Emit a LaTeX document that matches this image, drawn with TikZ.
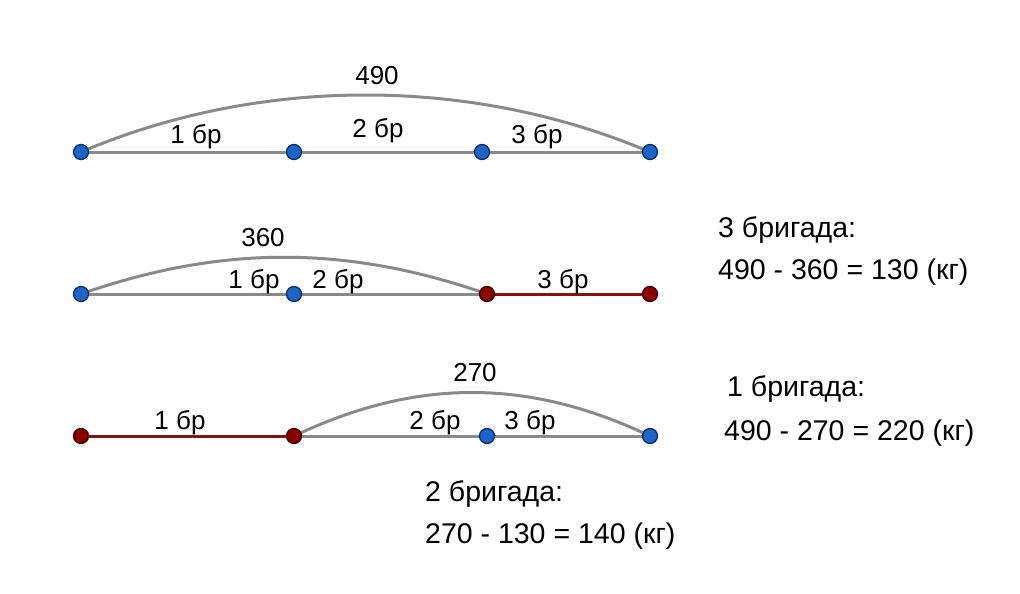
\documentclass[tikz,border=0pt]{standalone}
\usepackage{fontspec}
\setmainfont{Liberation Sans}
\definecolor{seggray}{HTML}{8A8A8A}
\definecolor{dotblue}{HTML}{1E64C8}
\definecolor{dotblueedge}{HTML}{0E2F66}
\definecolor{dotred}{HTML}{8C0000}
\definecolor{dotrededge}{HTML}{3A0000}
\definecolor{segred}{HTML}{801515}
\begin{document}
\begin{tikzpicture}[x=1pt,y=-1pt,
  bdot/.style={circle,fill=dotblue,draw=dotblueedge,line width=1.3pt,minimum size=15pt,inner sep=0pt},
  rdot/.style={circle,fill=dotred,draw=dotrededge,line width=1.3pt,minimum size=15pt,inner sep=0pt},
  gseg/.style={draw=seggray,line width=3pt},
  rseg/.style={draw=segred,line width=3pt},
  lbl/.style={font=\fontsize{26}{30}\selectfont,inner sep=0pt},
  txt/.style={font=\fontsize{28.5}{32}\selectfont,inner sep=0pt,anchor=west}]
\useasboundingbox (0,0) rectangle (1020,594);
% Row 1
\coordinate (a1) at (81,152);
\coordinate (b1) at (294,152);
\coordinate (c1) at (482,152);
\coordinate (d1) at (650,152);
\path[gseg] (a1) -- (b1) -- (c1) -- (d1);
\path[gseg] (a1) .. controls (260,76) and (471,76) .. (d1);
\node[bdot] (na1) at (a1) {};
\node[bdot] (nb1) at (b1) {};
\node[bdot] (nc1) at (c1) {};
\node[bdot] (nd1) at (d1) {};
\node[lbl] (t490) at (377,76) {490};
\node[lbl] (l11) at (196,137) {1 бр};
\node[lbl] (l12) at (378,131) {2 бр};
\node[lbl] (l13) at (537,137) {3 бр};
% Row 2
\coordinate (a2) at (81,294);
\coordinate (b2) at (294,294);
\coordinate (c2) at (487,294);
\coordinate (d2) at (650,294);
\path[gseg] (a2) -- (b2) -- (c2);
\path[rseg] (c2) -- (d2);
\path[gseg] (a2) .. controls (221,245) and (347,245) .. (c2);
\node[bdot] (na2) at (a2) {};
\node[bdot] (nb2) at (b2) {};
\node[rdot] (nc2) at (c2) {};
\node[rdot] (nd2) at (d2) {};
\node[lbl] (t360) at (263,238) {360};
\node[lbl] (l21) at (254,282) {1 бр};
\node[lbl] (l22) at (338,282) {2 бр};
\node[lbl] (l23) at (563,282) {3 бр};
% Row 3
\coordinate (a3) at (81,436);
\coordinate (b3) at (294,436);
\coordinate (c3) at (487,436);
\coordinate (d3) at (650,436);
\path[rseg] (a3) -- (b3);
\path[gseg] (b3) -- (c3) -- (d3);
\path[gseg] (b3) .. controls (416,378) and (528,378) .. (d3);
\node[rdot] (na3) at (a3) {};
\node[rdot] (nb3) at (b3) {};
\node[bdot] (nc3) at (c3) {};
\node[bdot] (nd3) at (d3) {};
\node[lbl] (t270) at (475,373) {270};
\node[lbl] (l31) at (180,423) {1 бр};
\node[lbl] (l32) at (435,423) {2 бр};
\node[lbl] (l33) at (530,423) {3 бр};
% Texts
\node[txt] (s3a) at (718,230) {3 бригада:};
\node[txt] (s3b) at (718,272) {490 - 360 = 130 (кг)};
\node[txt] (s1a) at (727,389) {1 бригада:};
\node[txt] (s1b) at (724,433) {490 - 270 = 220 (кг)};
\node[txt] (s2a) at (425,494) {2 бригада:};
\node[txt] (s2b) at (425,536) {270 - 130 = 140 (кг)};
\end{tikzpicture}
\end{document}
